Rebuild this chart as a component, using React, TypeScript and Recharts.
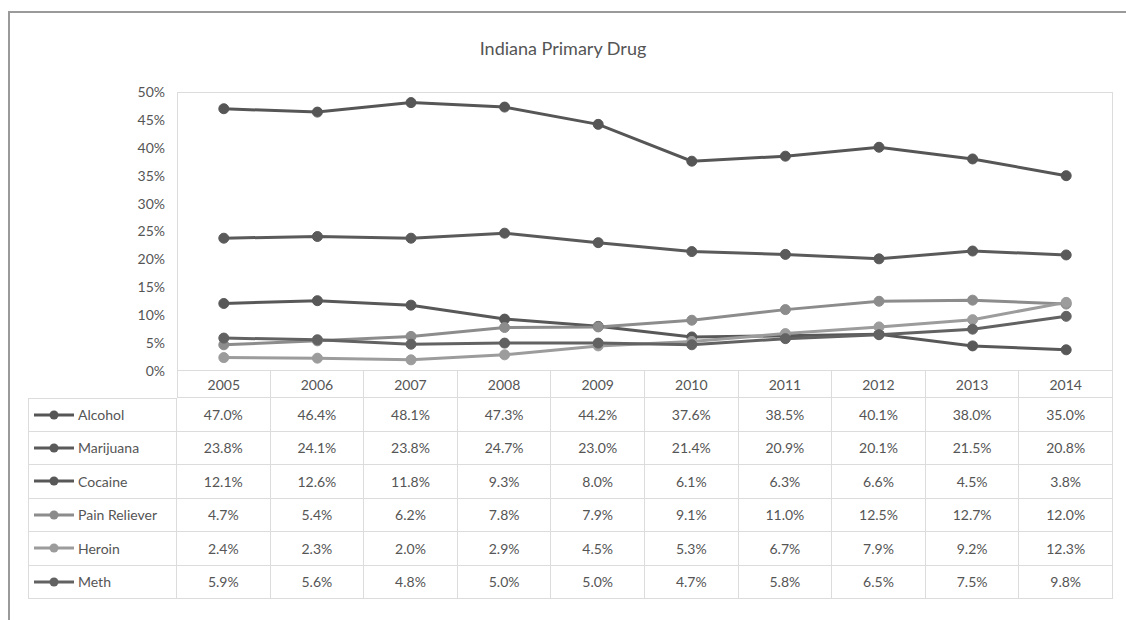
import { LineChart, Line, XAxis, YAxis } from 'recharts'

const years = ['2005', '2006', '2007', '2008', '2009', '2010', '2011', '2012', '2013', '2014']

const alcohol = [47.0, 46.4, 48.1, 47.3, 44.2, 37.6, 38.5, 40.1, 38.0, 35.0]
const marijuana = [23.8, 24.1, 23.8, 24.7, 23.0, 21.4, 20.9, 20.1, 21.5, 20.8]
const cocaine = [12.1, 12.6, 11.8, 9.3, 8.0, 6.1, 6.3, 6.6, 4.5, 3.8]
const painReliever = [4.7, 5.4, 6.2, 7.8, 7.9, 9.1, 11.0, 12.5, 12.7, 12.0]
const heroin = [2.4, 2.3, 2.0, 2.9, 4.5, 5.3, 6.7, 7.9, 9.2, 12.3]
const meth = [5.9, 5.6, 4.8, 5.0, 5.0, 4.7, 5.8, 6.5, 7.5, 9.8]

const yTicks = [0, 5, 10, 15, 20, 25, 30, 35, 40, 45, 50]

const SERIES = [
  { key: 'Alcohol', values: alcohol, color: '#565656' },
  { key: 'Marijuana', values: marijuana, color: '#5a5a5a' },
  { key: 'Cocaine', values: cocaine, color: '#585858' },
  { key: 'Pain Reliever', values: painReliever, color: '#8c8c8c' },
  { key: 'Heroin', values: heroin, color: '#9c9c9c' },
  { key: 'Meth', values: meth, color: '#626262' },
]

const rows = years.map((year, i) => {
  const row: Record<string, string | number> = { year }
  SERIES.forEach(s => { row[s.key] = s.values[i] })
  return row
})

const FONT = 'Lato, "Open Sans", sans-serif'
const PLOT_LEFT = 177
const PLOT_RIGHT = 1113
const PLOT_TOP = 92
const PLOT_BOTTOM = 371
const COL_W = (PLOT_RIGHT - PLOT_LEFT) / years.length
const ROW_H = 33.5
const TABLE_LEFT = 28
const GRID = '#dcdcdc'

function Key({ color }: { color: string }) {
  return (
    <svg width={42} height={12} style={{ marginRight: 3, flex: 'none' }}>
      <line x1={1} y1={6} x2={41} y2={6} stroke={color} strokeWidth={3} />
      <circle cx={21} cy={6} r={4.5} fill={color} />
    </svg>
  )
}

function DataTable() {
  const cell = {
    position: 'absolute' as const,
    boxSizing: 'border-box' as const,
    display: 'flex',
    alignItems: 'center',
    justifyContent: 'center',
    fontSize: 14,
    color: '#555',
    borderRight: `1px solid ${GRID}`,
    borderBottom: `1px solid ${GRID}`,
  }
  return (
    <>
      {years.map((y, c) => (
        <div key={y} style={{ ...cell, left: PLOT_LEFT + c * COL_W, top: PLOT_BOTTOM, width: COL_W, height: 27, borderLeft: c === 0 ? `1px solid ${GRID}` : undefined }}>
          {y}
        </div>
      ))}
      {SERIES.map((s, r) => {
        const top = PLOT_BOTTOM + 27 + r * ROW_H
        return (
          <div key={s.key}>
            <div style={{ ...cell, left: TABLE_LEFT, top, width: PLOT_LEFT - TABLE_LEFT, height: ROW_H, justifyContent: 'flex-start', paddingLeft: 4, borderLeft: `1px solid ${GRID}`, borderTop: r === 0 ? `1px solid ${GRID}` : undefined }}>
              <Key color={s.color} />
              {s.key}
            </div>
            {s.values.map((v, c) => (
              <div key={c} style={{ ...cell, left: PLOT_LEFT + c * COL_W, top, width: COL_W, height: ROW_H }}>
                {v.toFixed(1)}%
              </div>
            ))}
          </div>
        )
      })}
    </>
  )
}

export default function App() {
  return (
    <div style={{ position: 'absolute', left: 0, top: 0, width: 1126, height: 620, background: '#fff', fontFamily: FONT, overflow: 'hidden' }}>
      <div style={{ position: 'absolute', left: 8, top: 11, width: 1130, height: 640, border: '2px solid #9a9a9a', boxSizing: 'border-box' }} />
      <div style={{ position: 'absolute', left: 0, width: 1126, top: 37, textAlign: 'center', fontSize: 18, color: '#555' }}>
        Indiana Primary Drug
      </div>
      <div style={{ position: 'absolute', left: PLOT_LEFT, top: PLOT_TOP, width: PLOT_RIGHT - PLOT_LEFT, height: PLOT_BOTTOM - PLOT_TOP, border: `1px solid ${GRID}`, boxSizing: 'border-box' }} />
      <div style={{ position: 'absolute', left: 0, top: 0 }}>
        <LineChart width={1126} height={PLOT_BOTTOM + 14} data={rows} margin={{ top: PLOT_TOP, right: 1126 - PLOT_RIGHT, bottom: 14, left: PLOT_LEFT - 60 }}>
          <XAxis dataKey="year" hide padding={{ left: COL_W / 2, right: COL_W / 2 }} />
          <YAxis
            width={60}
            domain={[0, 50]}
            ticks={yTicks}
            interval={0}
            tickFormatter={(v: number) => `${v}%`}
            tick={{ fontSize: 14, fill: '#555', fontFamily: FONT }}
            axisLine={false}
            tickLine={false}
            tickSize={0}
            tickMargin={12}
          />
          {SERIES.map(s => (
            <Line
              key={s.key}
              dataKey={s.key}
              stroke={s.color}
              strokeWidth={3}
              dot={{ r: 5, fill: s.color, stroke: s.color, strokeWidth: 1 }}
              isAnimationActive={false}
            />
          ))}
        </LineChart>
      </div>
      <DataTable />
    </div>
  )
}
